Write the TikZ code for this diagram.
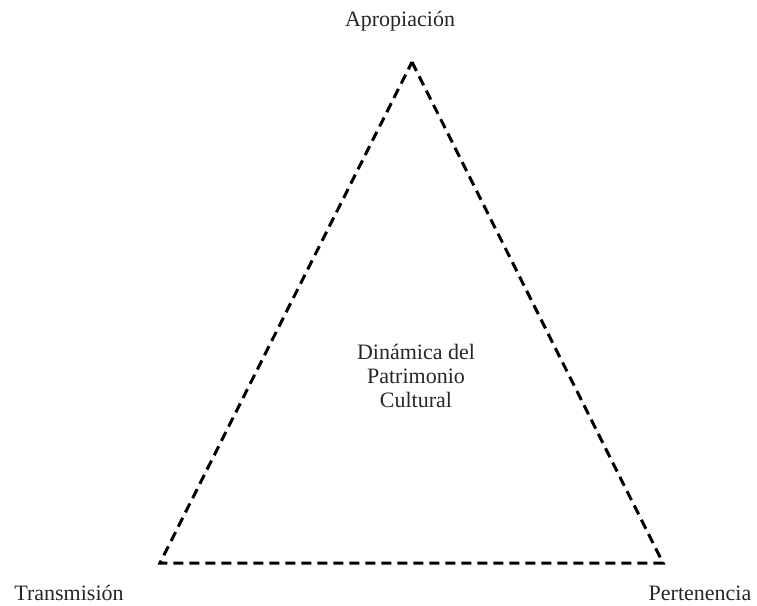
\documentclass[tikz,border=0pt]{standalone}
\usepackage{fontspec}
\setmainfont{Liberation Serif}
\begin{document}
\begin{tikzpicture}[x=1pt,y=-1pt,
  label/.style={font=\fontsize{22}{24}\selectfont, text=black!85, anchor=base, inner sep=0pt},
  edge/.style={line width=3pt, dash pattern=on 10pt off 6pt, line join=miter}]
  \useasboundingbox (0,0) rectangle (757,605);

  % corners of the triangle
  \coordinate (top) at (412,62);
  \coordinate (left) at (160,563);
  \coordinate (right) at (663,563);

  \draw[edge] (top) -- (right) -- (left) -- cycle;

  % vertex labels
  \node[label] (apropiacion) at (400,27) {Apropiación};
  \node[label] (transmision) at (69,600) {Transmisión};
  \node[label] (pertenencia) at (700,600) {Pertenencia};

  % centre label (base anchor sits on the last line)
  \node[label, align=center] (dinamica) at (416,407)
    {Dinámica del\\Patrimonio\\Cultural};
\end{tikzpicture}
\end{document}
